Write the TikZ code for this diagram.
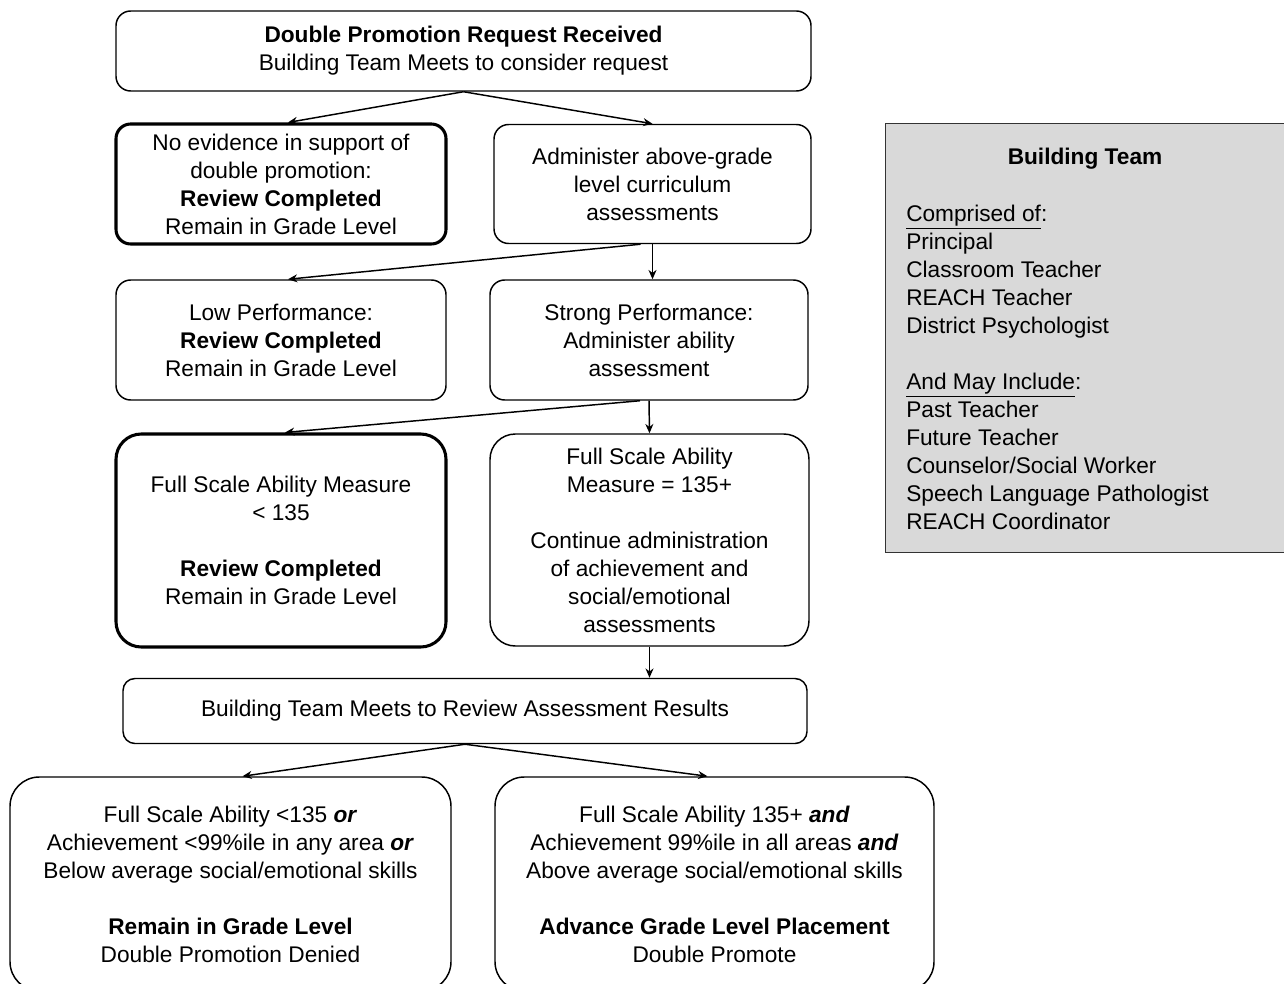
\documentclass[tikz,border=0pt]{standalone}
\usepackage{fontspec}
\setmainfont{Liberation Sans}
\usetikzlibrary{arrows.meta,calc}
\newcommand\fsz{\fontsize{17}{21}\selectfont}
\tikzset{
  box/.style={draw, line width=1.1pt, rounded corners=11pt, align=center, inner sep=0pt, font=\fsz},
  thickbox/.style={box, line width=2.3pt},
  arr/.style={line width=1.1pt, -{Stealth[length=7pt,width=6pt]}},
}
\begin{document}
\begin{tikzpicture}[x=0.75pt,y=-0.75pt]
\useasboundingbox (0,0) rectangle (1284,984);
\node[box, minimum width=521.25pt, minimum height=60pt] (top) at (463.5,51)
  {\textbf{Double Promotion Request Received}\\Building Team Meets to consider request};
\node[thickbox, minimum width=247.5pt, minimum height=90pt] (A) at (281,184)
  {No evidence in support of\\double promotion:\\\textbf{Review Completed}\\Remain in Grade Level};
\node[box, minimum width=237.75pt, minimum height=89.25pt] (B) at (652.5,184)
  {Administer above-grade\\level curriculum\\assessments};
\node[box, minimum width=247.5pt, minimum height=90pt] (C) at (281,340)
  {Low Performance:\\\textbf{Review Completed}\\Remain in Grade Level};
\node[box, minimum width=238.5pt, minimum height=90pt] (D) at (649,340)
  {Strong Performance:\\Administer ability\\assessment};
\node[thickbox, rounded corners=19pt, minimum width=247.5pt, minimum height=159.75pt] (E) at (281,540.5)
  {Full Scale Ability Measure\\< 135\\[21pt]\textbf{Review Completed}\\Remain in Grade Level};
\node[box, rounded corners=19pt, minimum width=239.25pt, minimum height=159pt] (F) at (649.5,540)
  {Full Scale Ability\\Measure = 135+\\[21pt]Continue administration\\of achievement and\\social/emotional\\assessments};
\node[box, rounded corners=9pt, minimum width=513pt, minimum height=48.75pt] (G) at (465,711)
  {Building Team Meets to Review Assessment Results};
\node[box, rounded corners=22pt, minimum width=330.75pt, minimum height=160.5pt] (H) at (230.5,884)
  {Full Scale Ability <135 \textbf{\textit{or}}\\Achievement <99\%ile in any area \textbf{\textit{or}}\\Below average social/emotional skills\\[21pt]\textbf{Remain in Grade Level}\\Double Promotion Denied};
\node[box, rounded corners=22pt, minimum width=329.25pt, minimum height=160.5pt] (I) at (714.5,884)
  {Full Scale Ability 135+ \textbf{\textit{and}}\\Achievement 99\%ile in all areas \textbf{\textit{and}}\\Above average social/emotional skills\\[21pt]\textbf{Advance Grade Level Placement}\\Double Promote};
\node[draw=black!80, line width=1.1pt, fill=black!15, minimum width=311.25pt, minimum height=321.75pt, anchor=north west, inner sep=0pt] (team) at (885,123) {};
\node[font=\fsz\bfseries, anchor=base, inner sep=0pt] (title) at (1085,165) {Building Team};
\node[font=\fsz, align=left, anchor=north west, inner sep=0pt] (list) at (906,205)
  {\underline{Comprised of}:\\Principal\\Classroom Teacher\\REACH Teacher\\District Psychologist\\[21pt]\underline{And May Include}:\\Past Teacher\\Future Teacher\\Counselor/Social Worker\\Speech Language Pathologist\\REACH Coordinator};
\draw[arr] (top.south) -- ($(A.north)+(7,0)$);
\draw[arr] (top.south) -- (B.north);
\draw[arr] ($(B.south)+(-12,0)$) -- ($(C.north)+(7,0)$);
\draw[arr] (B.south) -- (B.south |- D.north);
\draw[arr] ($(D.south)+(-9,0)$) -- ($(E.north)+(4,0)$);
\draw[arr] (D.south) -- (F.north);
\draw[arr] (F.south) -- (F.south |- G.north);
\draw[arr] (G.south) -- ($(H.north)+(12,0)$);
\draw[arr] (G.south) -- ($(I.north)+(-7,0)$);
\end{tikzpicture}
\end{document}
